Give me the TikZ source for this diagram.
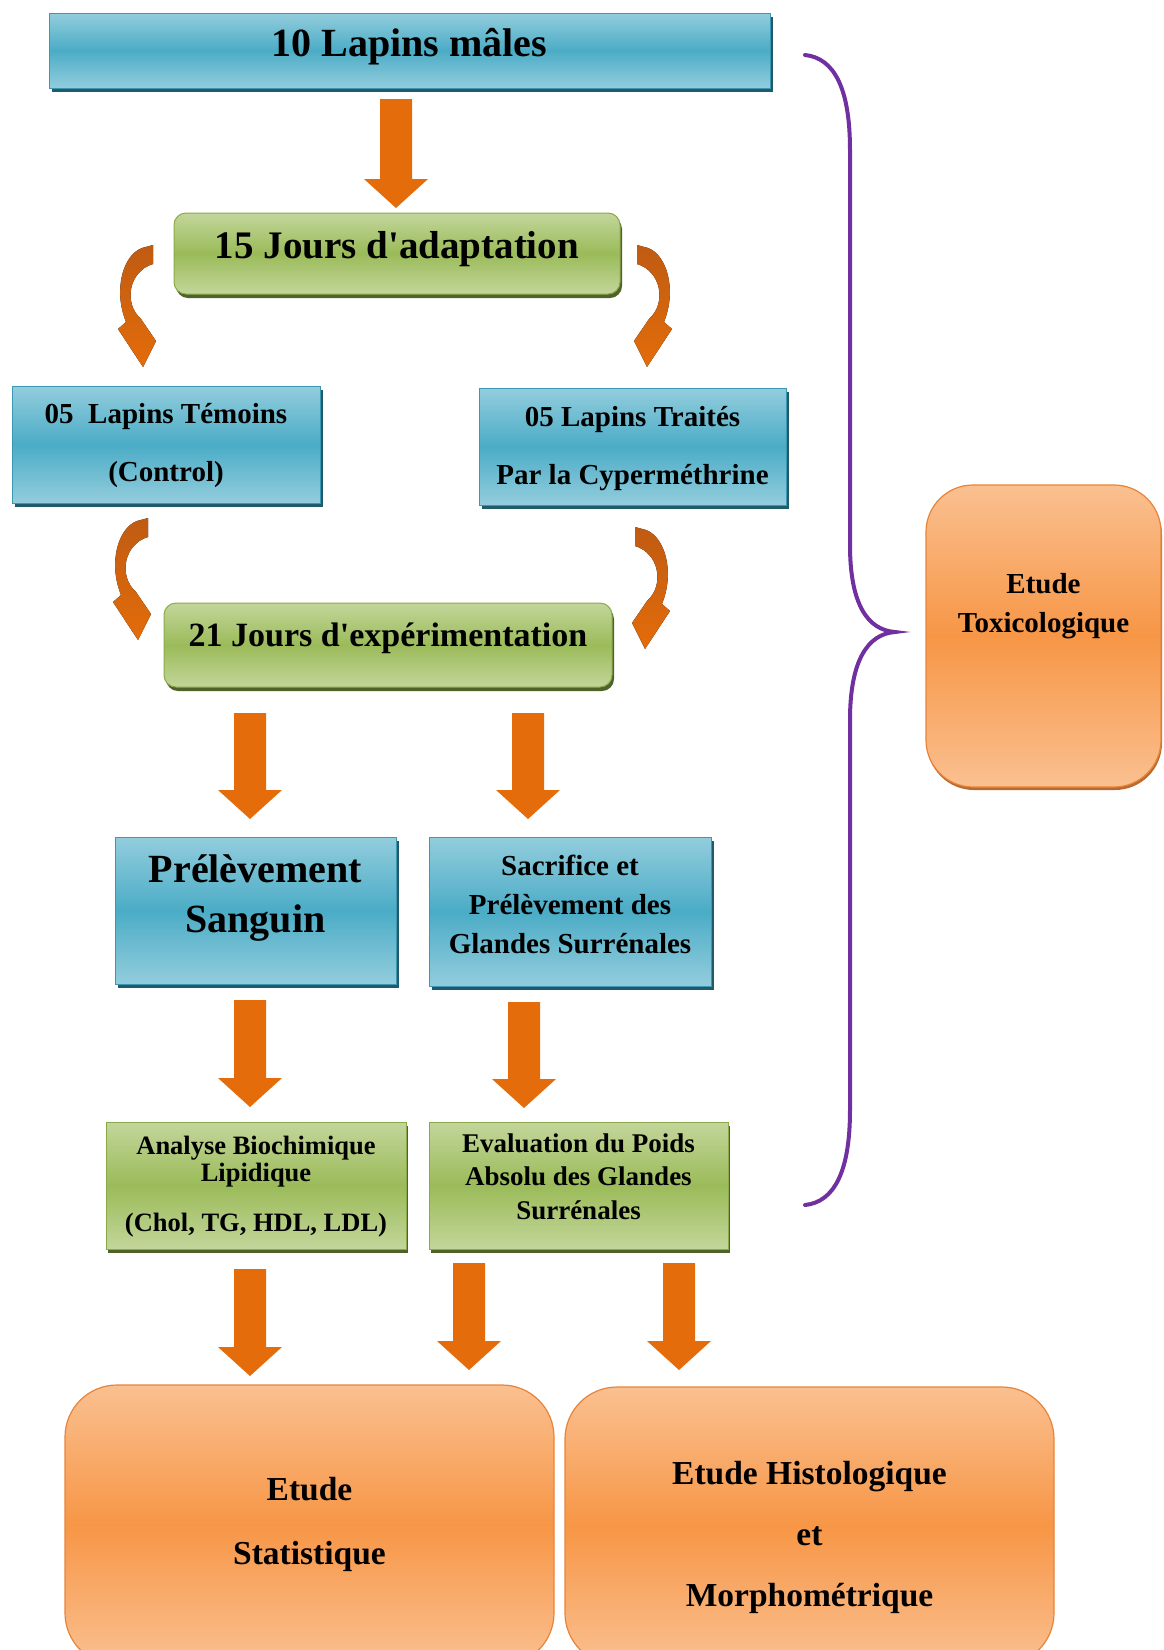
\documentclass[tikz,border=0pt]{standalone}
\usepackage{fontspec}
\setmainfont{Liberation Serif}
\usetikzlibrary{shadows,calc}
\definecolor{bluetop}{HTML}{93CDDD}
\definecolor{bluemid}{HTML}{4BACC6}
\definecolor{blueedge}{HTML}{3C98B2}
\definecolor{blueshadow}{HTML}{215A6A}
\definecolor{greentop}{HTML}{C3D69B}
\definecolor{greenmid}{HTML}{9BBB59}
\definecolor{greenedge}{HTML}{8AAA4A}
\definecolor{greenshadow}{HTML}{4F6228}
\definecolor{orangetop}{HTML}{FAC090}
\definecolor{orangemid}{HTML}{F79646}
\definecolor{orangeedge}{HTML}{E8843A}
\definecolor{arrowc}{HTML}{E46C0A}
\definecolor{curvtop}{HTML}{BF5B12}
\definecolor{bracec}{HTML}{7030A0}
\newcommand{\mlines}[1]{\begin{tabular}[t]{@{}c@{}}#1\end{tabular}}
\newcommand{\myfs}[2]{\bfseries\fontsize{#1}{#2}\selectfont}
% block arrow from start (top) to tip (bottom), kept vertical
\newcommand{\barrow}[2]{%
  \fill[arrowc] let \p1=#1, \p2=#2 in
    (\x1-16pt,\y1) -- (\x1+16pt,\y1) -- (\x1+16pt,\y2+29pt) -- (\x1+32pt,\y2+29pt)
    -- (\x1,\y2) -- (\x1-32pt,\y2+29pt) -- (\x1-16pt,\y2+29pt) -- cycle;}
% curved arrow, origin = top of its inner edge, #2 = 1 (bulges left) or -1 (bulges right)
\newcommand{\curvarr}[2]{%
  \fill[top color=curvtop, bottom color=arrowc, shift={#1}, xscale=#2]
    (0,0) -- (-11,3) .. controls (-30,10) and (-40,45) .. (-27,77)
    -- (-35,84) -- (-10,122) -- (3,96) -- (-12,74)
    .. controls (-30,58) and (-24,26) .. (0,19) -- cycle;}
\begin{document}
\begin{tikzpicture}[x=1pt,y=-1pt,
  box/.style={anchor=base, inner sep=0pt, outer sep=0pt, text=black},
  bluebox/.style={box, draw=blueedge, line width=1pt, top color=bluetop, bottom color=bluetop, middle color=bluemid,
     drop shadow={shadow xshift=3pt, shadow yshift=-4pt, fill=blueshadow, opacity=1}},
  greenbox/.style={box, draw=greenedge, line width=1pt, top color=greentop, bottom color=greentop, middle color=greenmid,
     drop shadow={shadow xshift=2pt, shadow yshift=-4pt, fill=greenshadow, opacity=1}},
  greenround/.style={greenbox, rounded corners=12pt},
  orangebox/.style={box, draw=orangeedge, line width=1.2pt, top color=orangetop, bottom color=orangetop, middle color=orangemid, rounded corners=#1},
  bracestyle/.style={draw=bracec, line width=4pt, line cap=round}
]
\useasboundingbox (0,0) rectangle (1163,1650);
\clip (0,0) rectangle (1163,1650);

% boxes
\node[bluebox, minimum width=721pt, text height=43pt, text depth=32pt, font=\myfs{40}{48}] (n10) at (409.5,56) {10 Lapins mâles};
\node[greenround, minimum width=446pt, text height=45pt, text depth=36pt, font=\myfs{39}{47}] (n15) at (397,258) {15 Jours d\textquotesingle adaptation};
\node[bluebox, minimum width=308pt, text height=37pt, text depth=80pt, font=\myfs{29}{58}] (tem) at (166,423) {\mlines{05 \ Lapins Témoins\\(Control)}};
\node[bluebox, minimum width=307pt, text height=38pt, text depth=79pt, font=\myfs{29}{58}] (tra) at (632.5,426) {\mlines{05 Lapins Traités\\Par la Cyperméthrine}};
\node[greenround, minimum width=448pt, text height=43pt, text depth=41pt, font=\myfs{34}{42}] (n21) at (388,646) {21 Jours d\textquotesingle expérimentation};
\node[bluebox, minimum width=281pt, text height=45pt, text depth=102pt, font=\myfs{40}{50}] (pre) at (255.5,882) {\mlines{Prélèvement\\Sanguin}};
\node[bluebox, minimum width=282pt, text height=38pt, text depth=111pt, font=\myfs{29}{39}] (sac) at (570,875) {\mlines{Sacrifice et\\Prélèvement des\\Glandes Surrénales}};
\node[greenbox, minimum width=300pt, text height=32pt, text depth=95pt, font=\myfs{26.5}{27}] (ana) at (256,1154) {\mlines{Analyse Biochimique\\Lipidique\\[23pt](Chol, TG, HDL, LDL)}};
\node[greenbox, minimum width=299pt, text height=30pt, text depth=97pt, font=\myfs{27}{33.5}] (eva) at (578.5,1152) {\mlines{Evaluation du Poids\\Absolu des Glandes\\Surrénales}};
\node[orangebox=47pt, minimum width=235pt, text height=108pt, text depth=194pt, font=\myfs{29}{39},
      drop shadow={shadow xshift=1pt, shadow yshift=-3pt, fill=orangeedge!80!black, opacity=1}] (tox) at (1043.5,593) {\mlines{Etude\\Toxicologique}};
\node[orangebox=52pt, minimum width=489pt, text height=115pt, text depth=165pt, font=\myfs{33.5}{64}] (sta) at (309.5,1500) {\mlines{Etude\\Statistique}};
\node[orangebox=52pt, minimum width=489pt, text height=97pt, text depth=181pt, font=\myfs{33.5}{61}] (his) at (809.5,1484) {\mlines{Etude Histologique\\et\\Morphométrique}};

% straight block arrows
\barrow{([xshift=-13.5pt,yshift=-11pt]n10.south)}{([xshift=-1pt,yshift=5pt]n15.north)}
\barrow{([xshift=-138pt,yshift=-26pt]n21.south)}{([xshift=-5.5pt,yshift=18pt]pre.north)}
\barrow{([xshift=140pt,yshift=-26pt]n21.south)}{([xshift=-42pt,yshift=18pt]sac.north)}
\barrow{([xshift=-5.5pt,yshift=-16pt]pre.south)}{([xshift=-6pt,yshift=15pt]ana.north)}
\barrow{([xshift=-46pt,yshift=-16pt]sac.south)}{([xshift=-54.5pt,yshift=14pt]eva.north)}
\barrow{([xshift=-6pt,yshift=-20pt]ana.south)}{([xshift=-59.5pt,yshift=9pt]sta.north)}
\barrow{([xshift=-109.5pt,yshift=-14pt]eva.south)}{([xshift=159.5pt,yshift=15pt]sta.north)}
\barrow{([xshift=100.5pt,yshift=-14pt]eva.south)}{([xshift=-130.5pt,yshift=17pt]his.north)}

% curved arrows
\curvarr{([xshift=-21pt,yshift=8.5pt]n15.west)}{1}
\curvarr{([xshift=17pt,yshift=8.5pt]n15.east)}{-1}
\curvarr{([xshift=-18pt,yshift=-15pt]tem.south)}{1}
\curvarr{([xshift=2.5pt,yshift=-22pt]tra.south)}{-1}

% brace
\draw[bracestyle] (805,55) .. controls (834,58) and (850,88) .. (850,150)
  -- (850,545) .. controls (850,605) and (868,630) .. (895,632)
  .. controls (868,634) and (850,660) .. (850,720)
  -- (850,1110) .. controls (850,1172) and (834,1202) .. (805,1205);
\end{tikzpicture}
\end{document}
